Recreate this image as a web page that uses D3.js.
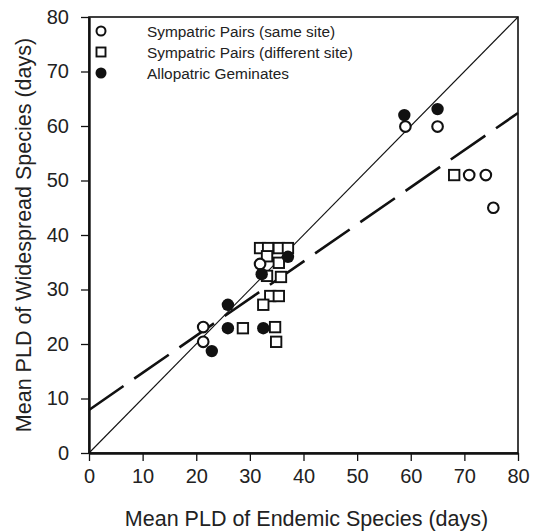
<!DOCTYPE html>
<html><head><meta charset="utf-8">
<script src="https://cdn.jsdelivr.net/npm/d3@7/dist/d3.min.js"></script>
<style>body{margin:0;background:#fff}svg{display:block}text{font-family:"Liberation Sans",Arial,sans-serif;fill:#222}</style>
</head><body><svg id="c" width="534" height="532"></svg>
<script>
const sameSite = [[21.3,23.1],[21.3,20.4],[31.9,34.7],[59,59.9],[65,59.9],[70.9,51],[74,51],[75.4,45]];
const diffSite = [[31.9,37.6],[33.4,37.6],[35.4,37.6],[37.1,37.6],[33.2,36.1],[35.4,34.9],[33.2,32.5],[35.8,32.3],[33.8,28.8],[35.4,28.8],[32.5,27.2],[28.7,22.9],[34.7,23.1],[34.9,20.4],[68.1,51]];
const allopatric = [[22.9,18.7],[25.9,27.2],[25.9,22.9],[32.5,22.9],[32.2,32.8],[37.1,36.0],[58.8,62.0],[65,63.1]];
const regression = {intercept: 7.9, slope: 0.681};
const ticks = [0,10,20,30,40,50,60,70,80];
const legendLabels = ["Sympatric Pairs (same site)","Sympatric Pairs (different site)","Allopatric Geminates"];

const svg = d3.select("#c");
const m = {l:89, r:16, t:17, b:79};
const W = 534, H = 532;
const x = d3.scaleLinear().domain([0,80]).range([m.l, W-m.r]);
const y = d3.scaleLinear().domain([0,80]).range([H-m.b, m.t]);

// 1:1 line
svg.append("line").attr("x1",x(0)).attr("y1",y(0)).attr("x2",x(80)).attr("y2",y(80))
  .attr("stroke","#111").attr("stroke-width",1.1);
// regression dashed
svg.append("line").attr("x1",x(0)).attr("y1",y(regression.intercept))
  .attr("x2",x(80)).attr("y2",y(regression.intercept+regression.slope*80))
  .attr("stroke","#111").attr("stroke-width",2.6).attr("stroke-dasharray","42,13");

// points
const g = svg.append("g");
g.selectAll(".sq").data(diffSite).join("rect")
  .attr("x",d=>x(d[0])-5.2).attr("y",d=>y(d[1])-5.2).attr("width",10.4).attr("height",10.4)
  .attr("fill","#fff").attr("stroke","#111").attr("stroke-width",1.9);
g.selectAll(".oc").data(sameSite).join("circle")
  .attr("cx",d=>x(d[0])).attr("cy",d=>y(d[1])).attr("r",5.3)
  .attr("fill","#fff").attr("stroke","#111").attr("stroke-width",2.1);
g.selectAll(".fc").data(allopatric).join("circle")
  .attr("cx",d=>x(d[0])).attr("cy",d=>y(d[1])).attr("r",6.2)
  .attr("fill","#111");

// frame
svg.append("rect").attr("x",x(0)).attr("y",y(80)).attr("width",x(80)-x(0)).attr("height",y(0)-y(80))
  .attr("fill","none").attr("stroke","#111").attr("stroke-width",1.6);

// axes
const xa = svg.append("g").attr("transform",`translate(0,${y(0)})`)
  .call(d3.axisBottom(x).tickValues(ticks).tickSize(8).tickSizeOuter(0).tickPadding(8));
const ya = svg.append("g").attr("transform",`translate(${x(0)},0)`)
  .call(d3.axisLeft(y).tickValues(ticks).tickSize(8).tickSizeOuter(0).tickPadding(12));
[xa,ya].forEach(a=>{
  a.select(".domain").attr("stroke","#111").attr("stroke-width",2.4);
  a.selectAll(".tick line").attr("stroke","#111").attr("stroke-width",1.3);
  a.selectAll(".tick text").style("font-size","20px").attr("fill","#222");
});

// axis titles
svg.append("text").attr("x",(x(0)+x(80))/2+3).attr("y",526).attr("text-anchor","middle")
  .style("font-size","21.5px").text("Mean PLD of Endemic Species (days)");
svg.append("text").attr("transform",`translate(31,${(y(0)+y(80))/2}) rotate(-90)`).attr("text-anchor","middle")
  .style("font-size","21.5px").text("Mean PLD of Widespread Species (days)");

// legend
const lg = svg.append("g");
const ly = [31,52,73];
lg.append("circle").attr("cx",101).attr("cy",ly[0]).attr("r",4.5).attr("fill","#fff").attr("stroke","#111").attr("stroke-width",2);
lg.append("rect").attr("x",96.5).attr("y",ly[1]-4.5).attr("width",9).attr("height",9).attr("fill","#fff").attr("stroke","#111").attr("stroke-width",1.9);
lg.append("circle").attr("cx",101).attr("cy",ly[2]).attr("r",5.5).attr("fill","#111");
lg.selectAll(".lt").data(legendLabels).join("text")
  .attr("x",147).attr("y",(d,i)=>ly[i]+5.5).style("font-size","15.4px").text(d=>d);
</script></body></html>
